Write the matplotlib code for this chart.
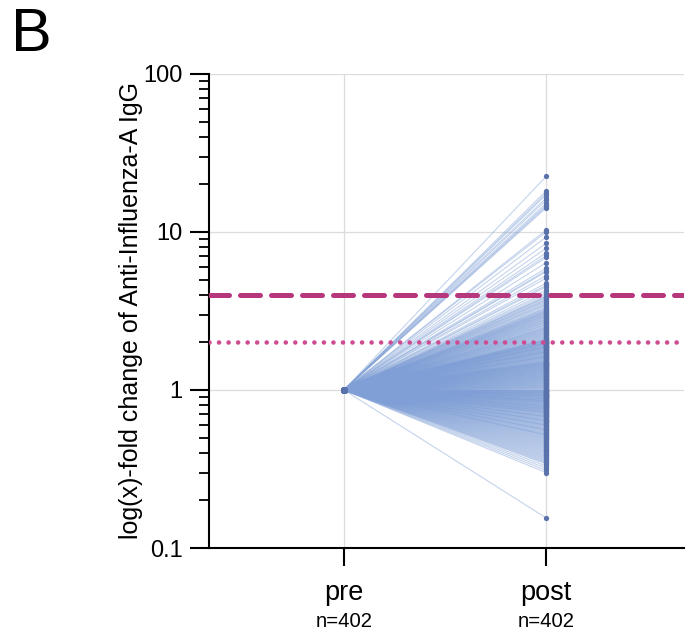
import numpy as np
import matplotlib
matplotlib.use("Agg")
import matplotlib.pyplot as plt
from matplotlib.ticker import LogLocator, FixedLocator, NullFormatter

plt.rcParams['font.family'] = ['Liberation Sans', 'DejaVu Sans']

categories = ["pre", "post"]
n_labels = ["n=402", "n=402"]

# post-vaccination fold change values (402 subjects)
post_values = [
    22.5, 18.2, 17.6, 17.2, 16.4, 15.9, 15.2, 14.8, 14.5, 14.2,
    10.3, 10.0, 9.3, 8.5, 7.9, 7.4, 7.1, 6.9, 6.4, 5.9,
    5.7, 5.6, 5.3, 5.1, 4.75, 4.6, 4.5, 4.3, 4.15, 4.05,
    3.95, 3.9, 3.86, 3.8, 3.74, 3.7, 3.66, 3.6, 3.55, 3.5,
    3.46, 3.41, 3.35, 3.3, 3.28, 3.24, 3.2, 3.18, 3.15, 3.12,
    3.1, 3.08, 3.05, 3.02, 3.0,
    2.98, 2.95, 2.93, 2.9, 2.88, 2.85, 2.82, 2.8, 2.78, 2.75,
    2.72, 2.7, 2.68, 2.65, 2.62, 2.6, 2.58, 2.55, 2.52, 2.5,
    2.48, 2.46, 2.44, 2.42, 2.4, 2.38, 2.36, 2.34, 2.32, 2.3,
    2.28, 2.26, 2.24, 2.22, 2.2, 2.18, 2.16, 2.14, 2.12, 2.1,
    2.09, 2.08, 2.07, 2.06, 2.05, 2.04, 2.03, 2.02, 2.01, 2.0,
    1.99, 1.985, 1.98, 1.97, 1.96, 1.95, 1.94, 1.93, 1.92, 1.91,
    1.9, 1.89, 1.88, 1.875, 1.87, 1.86, 1.85, 1.84, 1.83, 1.82,
    1.81, 1.8, 1.79, 1.78, 1.77, 1.76, 1.75, 1.745, 1.74, 1.73,
    1.72, 1.71, 1.7, 1.69, 1.68, 1.67, 1.66, 1.65, 1.64, 1.63,
    1.625, 1.62, 1.61, 1.6, 1.59, 1.58, 1.57, 1.56, 1.55, 1.54,
    1.53, 1.52, 1.515, 1.51, 1.5,
    1.49, 1.485, 1.48, 1.475, 1.47, 1.46, 1.455, 1.45, 1.44, 1.435,
    1.43, 1.42, 1.415, 1.41, 1.4, 1.395, 1.39, 1.38, 1.375, 1.37,
    1.36, 1.355, 1.35, 1.34, 1.335, 1.33, 1.32, 1.315, 1.31, 1.3,
    1.295, 1.29, 1.28, 1.275, 1.27, 1.26, 1.255, 1.25, 1.24, 1.235,
    1.23, 1.22, 1.215, 1.21, 1.2, 1.195, 1.19, 1.18, 1.175, 1.17,
    1.16, 1.155, 1.15, 1.14, 1.135, 1.13, 1.12, 1.115, 1.11, 1.1,
    1.095, 1.09, 1.08, 1.075, 1.07, 1.06, 1.055, 1.05, 1.04, 1.035,
    1.03, 1.02, 1.015, 1.01, 1.0,
    0.995, 0.99, 0.985, 0.98, 0.98, 0.975, 0.97, 0.965, 0.96, 0.96,
    0.955, 0.95, 0.95, 0.945, 0.94, 0.935, 0.93, 0.93, 0.925, 0.92,
    0.92, 0.915, 0.91, 0.905, 0.9, 0.9, 0.895, 0.89, 0.885, 0.88,
    0.88, 0.875, 0.87, 0.865, 0.86, 0.86, 0.855, 0.85, 0.85, 0.845,
    0.84, 0.835, 0.83, 0.83, 0.825, 0.82, 0.815, 0.81, 0.805, 0.8,
    0.8, 0.795, 0.79, 0.785, 0.78, 0.78, 0.775, 0.77, 0.765, 0.76,
    0.76, 0.755, 0.75, 0.745, 0.74, 0.74, 0.735, 0.73, 0.725, 0.72,
    0.72, 0.715, 0.71, 0.705, 0.7,
    0.695, 0.69, 0.685, 0.68, 0.68, 0.675, 0.67, 0.665, 0.66, 0.655,
    0.65, 0.645, 0.64, 0.64, 0.635, 0.63, 0.625, 0.62, 0.615, 0.61,
    0.605, 0.6, 0.6, 0.595, 0.59, 0.585, 0.58, 0.575, 0.57, 0.565,
    0.56, 0.56, 0.555, 0.55, 0.545, 0.54, 0.535, 0.53, 0.525, 0.52,
    0.52, 0.515, 0.51, 0.505, 0.5,
    0.495, 0.49, 0.485, 0.48, 0.475, 0.47, 0.465, 0.46, 0.455, 0.45,
    0.445, 0.44, 0.435, 0.43, 0.425, 0.42, 0.415, 0.41, 0.405, 0.4,
    0.395, 0.39, 0.385, 0.38, 0.375, 0.37, 0.365, 0.36, 0.355, 0.35,
    0.345, 0.34, 0.33, 0.32, 0.31, 0.30,
    0.155,
]
pre_value = 1.0
threshold_4fold = 4.0
threshold_2fold = 2.0

post = np.array(post_values)
pre = np.full_like(post, pre_value)
xpos = np.arange(len(categories))

fig = plt.figure(figsize=(6.94, 6.35), dpi=100)
ax = fig.add_axes([0.301, 0.137, 0.685, 0.7465])

ax.set_yscale('log')
ax.set_ylim(0.1, 100)
ax.set_xlim(-0.668, 1.683)

# grid
for y in [1, 10, 100]:
    ax.axhline(y, color='#dcdcdc', lw=0.9, zorder=0)
for x in xpos:
    ax.axvline(x, color='#dcdcdc', lw=0.9, zorder=0)

# paired lines
ax.plot(np.vstack([np.full_like(post, xpos[0]), np.full_like(post, xpos[1])]),
        np.vstack([pre, post]), color='#7f9fd6', alpha=0.45, lw=0.8, zorder=2)
ax.plot(np.full_like(post, xpos[0]), pre, 'o', color='#5a72ab', ms=4.6, mew=0, zorder=3)
ax.plot(np.full_like(post, xpos[1]), post, 'o', color='#5a72ab', ms=3.8, mew=0, zorder=3)

# thresholds
ax.axhline(threshold_4fold, color='#b7377d', lw=3.6, linestyle=(0, (4, 2.2)),
           dash_capstyle='round', zorder=4)
ax.axhline(threshold_2fold, color='#cf4b91', lw=3.3, linestyle=(0, (0.01, 2.07)),
           dash_capstyle='round', zorder=4)

for s in ['top', 'right']:
    ax.spines[s].set_visible(False)
for s in ['left', 'bottom']:
    ax.spines[s].set_linewidth(1.5)

ax.yaxis.set_major_locator(FixedLocator([0.1, 1, 10, 100]))
ax.set_yticklabels(['0.1', '1', '10', '100'])
ax.yaxis.set_minor_locator(LogLocator(base=10, subs=np.arange(2, 10)))
ax.yaxis.set_minor_formatter(NullFormatter())
ax.tick_params(axis='y', which='major', length=14, width=1.5, labelsize=17, pad=5)
ax.tick_params(axis='y', which='minor', length=7, width=1.3)

ax.set_xticks(xpos)
ax.set_xticklabels(categories)
ax.tick_params(axis='x', which='major', length=13, width=1.5, labelsize=19.5, pad=10)
for x, t in zip(xpos, n_labels):
    ax.text(x, -0.154, t, transform=ax.get_xaxis_transform(), ha='center', va='center',
            fontsize=14.6)

ax.set_ylabel('log(x)-fold change of Anti-Influenza-A IgG', fontsize=18, labelpad=0)
fig.text(0.016, 0.944, 'B', fontsize=44, ha='left', va='center')

fig.savefig('out.png', dpi=100)
